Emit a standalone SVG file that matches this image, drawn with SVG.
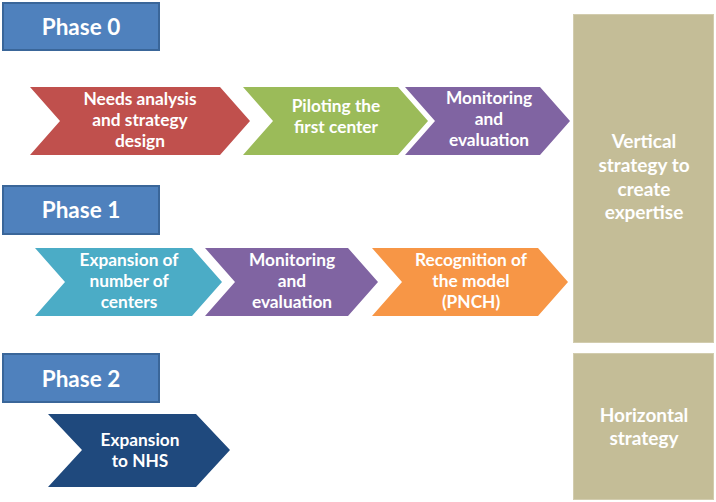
<svg xmlns="http://www.w3.org/2000/svg" width="716" height="502" viewBox="0 0 716 502">
<style>
  text { font-family: Lato, "Open Sans", "Liberation Sans", sans-serif; font-weight: bold; fill: #ffffff; text-anchor: middle; }
  .phase rect { fill: #4F81BD; stroke: #3A6699; stroke-width: 2; }
  .phase text { font-size: 22.5px; }
  .chev text { font-size: 17.3px; }
  .tan rect { fill: #C4BD97; stroke: #D2CCAE; stroke-width: 1; }
  .tan text { font-size: 19px; }
</style>
<rect width="716" height="502" fill="#ffffff"/>

<g id="phase0" class="phase">
  <rect x="3" y="3" width="156" height="47"/>
  <text x="81" y="35">Phase 0</text>
</g>
<g id="phase1" class="phase">
  <rect x="3" y="186" width="156" height="48"/>
  <text x="81" y="218">Phase 1</text>
</g>
<g id="phase2" class="phase">
  <rect x="3" y="354" width="156" height="48"/>
  <text x="81" y="387">Phase 2</text>
</g>

<g id="needs-analysis" class="chev">
  <polygon points="30,87 220,87 250,121 220,155 30,155 60,121" fill="#C0504D"/>
  <text x="140" y="105">Needs analysis</text>
  <text x="140" y="126">and strategy</text>
  <text x="140" y="147">design</text>
</g>
<g id="piloting" class="chev">
  <polygon points="243,87 398,87 428,121 398,155 243,155 273,121" fill="#9BBB59"/>
  <text x="336" y="112">Piloting the</text>
  <text x="336" y="133">first center</text>
</g>
<g id="monitoring0" class="chev">
  <polygon points="405,87 540,87 570,121 540,155 405,155 435,121" fill="#8064A2"/>
  <text x="489" y="104">Monitoring</text>
  <text x="489" y="125">and</text>
  <text x="489" y="146">evaluation</text>
</g>

<g id="expansion-centers" class="chev">
  <polygon points="35,248 192,248 222,282 192,316 35,316 65,282" fill="#4BACC6"/>
  <text x="129" y="266">Expansion of</text>
  <text x="129" y="287">number of</text>
  <text x="129" y="308">centers</text>
</g>
<g id="monitoring1" class="chev">
  <polygon points="205,248 348,248 378,282 348,316 205,316 235,282" fill="#8064A2"/>
  <text x="292" y="266">Monitoring</text>
  <text x="292" y="287">and</text>
  <text x="292" y="308">evaluation</text>
</g>
<g id="recognition" class="chev">
  <polygon points="372,248 538,248 568,282 538,316 372,316 402,282" fill="#F79646"/>
  <text x="471" y="266">Recognition of</text>
  <text x="471" y="287">the model</text>
  <text x="471" y="308">(PNCH)</text>
</g>

<g id="expansion-nhs" class="chev">
  <polygon points="48,414 196,414 230,450 196,487 48,487 82,450" fill="#1F497D"/>
  <text x="140" y="446">Expansion</text>
  <text x="140" y="467">to NHS</text>
</g>

<g id="vertical-strategy" class="tan">
  <rect x="573.5" y="14.5" width="140" height="328"/>
  <text x="644" y="148">Vertical</text>
  <text x="644" y="172">strategy to</text>
  <text x="644" y="196">create</text>
  <text x="644" y="219">expertise</text>
</g>
<g id="horizontal-strategy" class="tan">
  <rect x="573.5" y="353.5" width="140" height="146"/>
  <text x="644" y="422">Horizontal</text>
  <text x="644" y="445">strategy</text>
</g>

<g id="connectors"></g>
</svg>
